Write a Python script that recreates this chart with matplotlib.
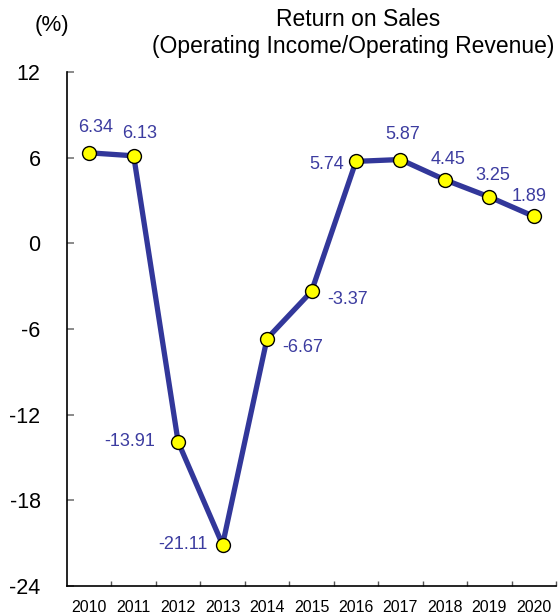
import matplotlib
matplotlib.use("Agg")
import matplotlib.pyplot as plt

plt.rcParams['font.family'] = ['Liberation Sans', 'DejaVu Sans']

years = ["2010", "2011", "2012", "2013", "2014", "2015", "2016", "2017", "2018", "2019", "2020"]
ros = [6.34, 6.13, -13.91, -21.11, -6.67, -3.37, 5.74, 5.87, 4.45, 3.25, 1.89]
yticks = [12, 6, 0, -6, -12, -18, -24]
# label offsets in pixels (dx, dy) and horizontal alignment
label_off = [(6, 25, 'center'), (6, 22, 'center'), (-23, 0, 'right'), (-15, 0, 'right'),
             (15, -9, 'left'), (16, -8, 'left'), (-12, -3, 'right'), (2, 25, 'center'),
             (3, 20, 'center'), (3, 21, 'center'), (-5, 20, 'center')]

fig = plt.figure(figsize=(5.58, 6.15), dpi=100)
ax = fig.add_axes([67/558, 1-586/615, (556-67)/558, (586-72)/615])

x = list(range(len(years)))
ax.plot(x, ros, color='#32379a', lw=3.8, zorder=2, solid_joinstyle='miter')
ax.plot(x, ros, ls='none', marker='o', ms=10, mfc='#ffff00', mec='black', mew=1.0, zorder=3)

px = 0.72
for xi, v, (dx, dy, ha) in zip(x, ros, label_off):
    ax.annotate(f"{v:.2f}", (xi, v), xytext=(dx*px, dy*px), textcoords='offset points',
                ha=ha, va='center', fontsize=13, color='#3c3ca0')

ax.set_xlim(-0.5, len(years)-0.5)
ax.set_ylim(-24, 12)
ax.set_yticks(yticks)
ax.set_yticklabels([str(t) for t in yticks])
ax.set_xticks(x)
ax.set_xticklabels(years)
ax.set_xticks([i+0.5 for i in x], minor=True)

for s in ['top', 'right']:
    ax.spines[s].set_visible(False)
for s in ['left', 'bottom']:
    ax.spines[s].set_linewidth(1.2)

ax.tick_params(axis='y', direction='in', length=5, width=1.2, color='#777777',
               labelsize=15.5, pad=19)
ax.tick_params(axis='x', which='major', length=0, labelsize=11.5, pad=10)
ax.tick_params(axis='x', which='minor', direction='in', length=3.8, width=1.0, color='#555555')

fig.text(52/558, 1-26/615, "(%)", ha='center', va='center', fontsize=16)
fig.text(358/558, 1-20/615, "Return on Sales", ha='center', va='center', fontsize=16.5)
fig.text(353/558, 1-47/615, "(Operating Income/Operating Revenue)", ha='center', va='center', fontsize=16.5)

fig.savefig("out.png", dpi=100)
